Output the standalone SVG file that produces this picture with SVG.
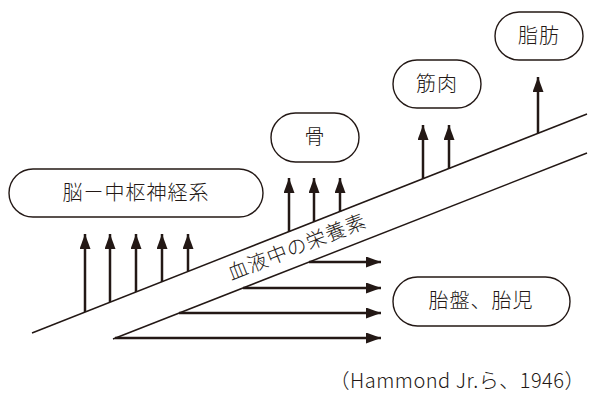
<svg xmlns="http://www.w3.org/2000/svg" width="591" height="399" viewBox="0 0 591 399">
<style>
.node rect{fill:#fff;stroke:#231815;stroke-width:1.4}
.node text,.lbl{font-family:"Noto Sans CJK JP","Noto Sans",sans-serif;font-size:20px;font-weight:300;fill:#231815;text-anchor:middle;letter-spacing:1px}
.band{stroke:#231815;stroke-width:1.5;fill:none}
.arr{stroke:#231815;stroke-width:2.5;fill:none;marker-end:url(#ah)}
.cap{font-family:"Noto Sans CJK JP","Noto Sans",sans-serif;font-size:20px;font-weight:300;letter-spacing:0.5px;fill:#231815}
</style>
<defs>
<marker id="ah" markerUnits="userSpaceOnUse" markerWidth="16" markerHeight="12" refX="15" refY="5.5" orient="auto">
<path d="M0,0 L15,5.5 L0,11 Z" fill="#231815"/>
</marker>
</defs>
<rect width="591" height="399" fill="#fff"/>
<g id="band">
<line class="band" x1="32" y1="333" x2="587" y2="114"/>
<line class="band" x1="113" y1="339" x2="587" y2="153"/>
<text class="lbl" transform="translate(297,247) rotate(-21.5)" y="7">血液中の栄養素</text>
</g>
<g id="connectors">
<line class="arr" x1="85" y1="312" x2="85" y2="234"/>
<line class="arr" x1="110" y1="302" x2="110" y2="234"/>
<line class="arr" x1="136" y1="292" x2="136" y2="234"/>
<line class="arr" x1="162" y1="282" x2="162" y2="234"/>
<line class="arr" x1="188" y1="271" x2="188" y2="234"/>
<line class="arr" x1="289" y1="232" x2="289" y2="178"/>
<line class="arr" x1="314" y1="222" x2="314" y2="178"/>
<line class="arr" x1="340" y1="212" x2="340" y2="178"/>
<line class="arr" x1="423" y1="179" x2="423" y2="125"/>
<line class="arr" x1="449" y1="169" x2="449" y2="125"/>
<line class="arr" x1="538" y1="133" x2="538" y2="77"/>
<line class="arr" x1="309" y1="262" x2="381" y2="262"/>
<line class="arr" x1="243" y1="288" x2="381" y2="288"/>
<line class="arr" x1="179" y1="313" x2="381" y2="313"/>
<line class="arr" x1="115" y1="338" x2="381" y2="338"/>
</g>
<g id="brain" class="node">
<rect x="9" y="169" width="254" height="48" rx="24"/>
<text x="136" y="200">脳ー中枢神経系</text>
</g>
<g id="bone" class="node">
<rect x="271" y="113" width="88" height="49" rx="24.5"/>
<text x="315" y="144">骨</text>
</g>
<g id="muscle" class="node">
<rect x="393" y="60" width="88" height="48" rx="24"/>
<text x="437" y="91">筋肉</text>
</g>
<g id="fat" class="node">
<rect x="495" y="12" width="88" height="48" rx="24"/>
<text x="539" y="43">脂肪</text>
</g>
<g id="placenta" class="node">
<rect x="393" y="277" width="177" height="49" rx="24.5"/>
<text x="481" y="308">胎盤、胎児</text>
</g>
<text class="cap" x="585" y="388" text-anchor="end">（Hammond Jr.ら、1946）</text>
</svg>
